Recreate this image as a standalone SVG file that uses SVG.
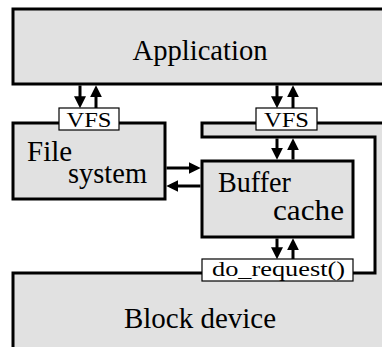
<svg xmlns="http://www.w3.org/2000/svg" width="382" height="347" viewBox="0 0 382 347">
<defs>
<style>
.box{fill:#e1e1e1;stroke:#000;stroke-width:3}
.lbl{fill:#fff;stroke:#000;stroke-width:1.2}
text{font-family:"Liberation Serif","Times New Roman","DejaVu Serif",serif;fill:#000}
.big{font-size:29px}
.small{font-size:22px}
.ar{stroke:#000;stroke-width:3;fill:none;marker-end:url(#ah)}
</style>
<marker id="ah" viewBox="0 0 10 10" refX="6.5" refY="5" markerWidth="12" markerHeight="13" markerUnits="userSpaceOnUse" orient="auto">
<path d="M0,0 L10,5 L0,10 Z" fill="#000"/>
</marker>
</defs>
<rect width="382" height="347" fill="#fff"/>
<g id="application">
<rect class="box" x="13" y="9" width="380" height="75"/>
<text class="big" x="200" y="60" text-anchor="middle" textLength="135" lengthAdjust="spacingAndGlyphs">Application</text>
</g>
<g id="block-device">
<path class="box" d="M13,273 H375 V137 H202 V123 H392 V360 H13 Z"/>
<text class="big" x="200" y="328" text-anchor="middle" textLength="152" lengthAdjust="spacingAndGlyphs">Block device</text>
</g>
<g id="file-system">
<rect class="box" x="13" y="123" width="152" height="76"/>
<text class="big" x="27" y="161">File</text>
<text class="big" x="68" y="183" textLength="79" lengthAdjust="spacingAndGlyphs">system</text>
</g>
<g id="buffer-cache">
<rect class="box" x="202" y="161" width="151" height="76"/>
<text class="big" x="218" y="192" textLength="73" lengthAdjust="spacingAndGlyphs">Buffer</text>
<text class="big" x="344" y="220" text-anchor="end" textLength="71" lengthAdjust="spacingAndGlyphs">cache</text>
</g>
<g id="vfs-left">
<rect class="lbl" x="59" y="108" width="60" height="22"/>
<text class="small" x="89" y="127" text-anchor="middle" textLength="45" lengthAdjust="spacingAndGlyphs">VFS</text>
</g>
<g id="vfs-right">
<rect class="lbl" x="256" y="108" width="61" height="22"/>
<text class="small" x="286.5" y="127" text-anchor="middle" textLength="45" lengthAdjust="spacingAndGlyphs">VFS</text>
</g>
<g id="do-request">
<rect class="lbl" x="202" y="259" width="151" height="22"/>
<text class="small" x="212" y="276" textLength="133" lengthAdjust="spacingAndGlyphs">do_request()</text>
</g>
<g id="connectors">
<line class="ar" x1="80" y1="85.5" x2="80" y2="104"/>
<line class="ar" x1="96" y1="108" x2="96" y2="89.5"/>
<line class="ar" x1="277" y1="85.5" x2="277" y2="104"/>
<line class="ar" x1="293" y1="108" x2="293" y2="89.5"/>
<line class="ar" x1="277" y1="138.5" x2="277" y2="155.5"/>
<line class="ar" x1="293" y1="159.5" x2="293" y2="142.5"/>
<line class="ar" x1="166.5" y1="168" x2="196.5" y2="168"/>
<line class="ar" x1="200.5" y1="186" x2="170.5" y2="186"/>
<line class="ar" x1="277" y1="238.5" x2="277" y2="255"/>
<line class="ar" x1="293" y1="259" x2="293" y2="242.5"/>
</g>
</svg>
